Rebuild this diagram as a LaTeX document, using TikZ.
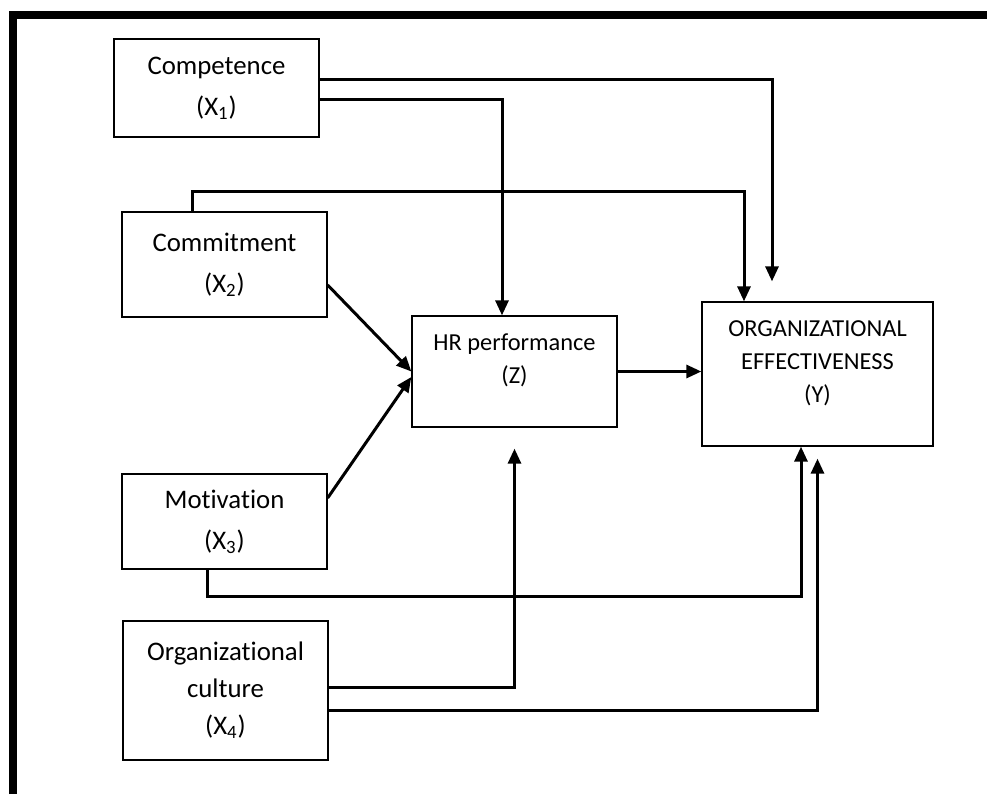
\documentclass[tikz,border=0pt]{standalone}
\usepackage{fontspec}
\setmainfont{Carlito}[Ligatures=NoCommon]
\usetikzlibrary{arrows.meta}

\begin{document}
\begin{tikzpicture}[x=0.5pt,y=-0.5pt,
    box/.style={draw,line width=0.65pt,align=center,inner sep=0pt,minimum width=102.5pt},
    flow/.style={line width=1.5pt,-{Triangle[length=7.5pt,width=6.5pt]}},
    bigtext/.style={font=\fontsize{13.4}{20.5}\selectfont},
    smalltext/.style={align=center,inner sep=0pt}]
    \useasboundingbox (0,0) rectangle (987,794);

    % Outer frame (top and left side)
    \draw[line width=4pt] (12.5,794) -- (12.5,15) -- (987,15);

    % Independent variables
    \node[box,bigtext,minimum height=49pt] (comp) at (216.5,88) {Competence\\(X\textsubscript{1})};
    \node[box,bigtext,minimum height=52.5pt] (commit) at (224.5,264.5) {Commitment\\(X\textsubscript{2})};
    \node[box,bigtext,minimum height=47.5pt] (motiv) at (224.5,521.5) {Motivation\\(X\textsubscript{3})};
    \node[box,font=\fontsize{13.4}{18.5}\selectfont,minimum height=69.5pt] (culture) at (225.5,690.5) {Organizational\\culture\\(X\textsubscript{4})};

    % Intervening and dependent variables
    \node[box,minimum height=55.5pt] (hr) at (514.5,371.5) {};
    \node[smalltext,font=\fontsize{12.2}{16.5}\selectfont] (hrtext) at (514.5,360) {HR performance\\(Z)};
    \node[box,minimum width=115.5pt,minimum height=72pt] (org) at (817.5,374) {};
    \node[smalltext,font=\fontsize{12.2}{16.5}\selectfont] (orgtext) at (817.5,363) {ORGANIZATIONAL\\EFFECTIVENESS\\(Y)};

    % Free arrow ends
    \coordinate (orgtop) at ([shift={(-22.75pt,10pt)}]org.north);
    \coordinate (hrbottom) at ([yshift=-10.5pt]hr.south);
    \coordinate (orgbottom) at ([yshift=-6pt]org.south);

    % Paths to HR performance
    \draw[flow] ([yshift=-5.5pt]comp.east) -| ([xshift=-6.25pt]hr.north);
    \draw[flow] ([yshift=-10.25pt]commit.east) -- (hr.west);
    \draw[flow] ([yshift=11.75pt]motiv.east) -- ([yshift=-2.75pt]hr.west);
    \draw[flow] ([yshift=1.75pt]culture.east) -| (hrbottom);

    % Paths to organizational effectiveness
    \draw[flow] ([yshift=4.5pt]comp.east) -| (orgtop);
    \draw[flow] ([xshift=-16.25pt]commit.north) -- ++(0,-20) -| ([xshift=-36.75pt]org.north);
    \draw[flow] ([xshift=-8.75pt]motiv.south) -- ++(0,27) -| ([xshift=-8.25pt]org.south);
    \draw[flow] ([yshift=-9.75pt]culture.east) -| (orgbottom);
    \draw[flow] (hr.east) -- (hr.east -| org.west);
\end{tikzpicture}
\end{document}
